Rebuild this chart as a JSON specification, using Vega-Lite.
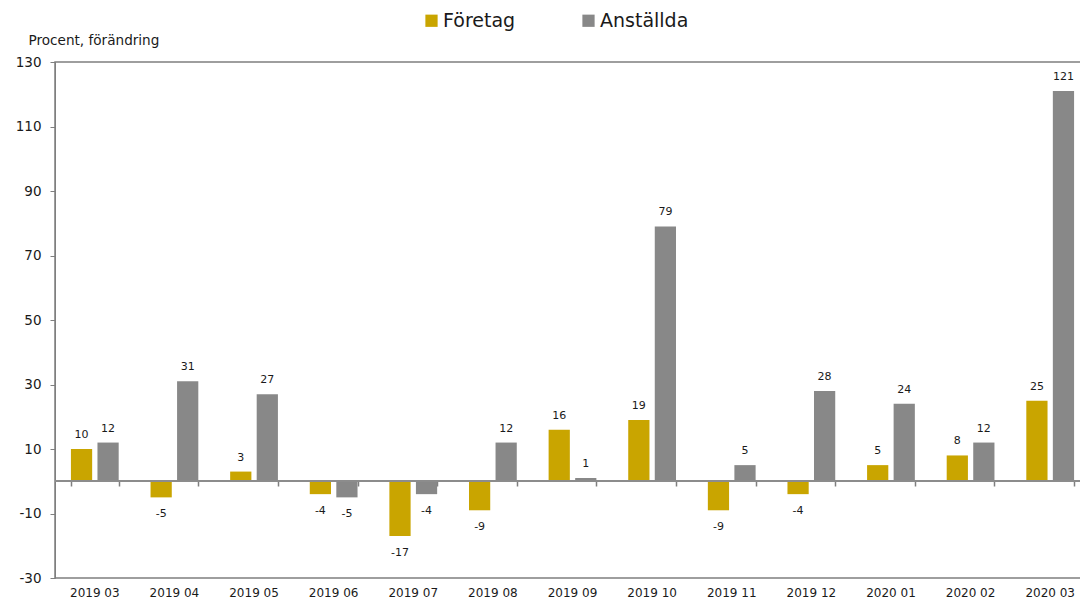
{
  "$schema": "https://vega.github.io/schema/vega-lite/v6.json",
  "width": 1026,
  "height": 516,
  "autosize": {"type": "none"},
  "padding": {"left": 55, "top": 62, "right": 0, "bottom": 25},
  "config": {
    "font": "DejaVu Sans",
    "view": {"stroke": "#7f7f7f", "strokeWidth": 1.5},
    "axis": {"labelColor": "#1a1a1a", "titleColor": "#1a1a1a", "domainColor": "#7f7f7f", "tickColor": "#7f7f7f", "grid": false}
  },
  "data": {
    "values": [
      {"month": "2019 03", "serie": "Företag", "value": 10},
      {"month": "2019 03", "serie": "Anställda", "value": 12},
      {"month": "2019 04", "serie": "Företag", "value": -5},
      {"month": "2019 04", "serie": "Anställda", "value": 31},
      {"month": "2019 05", "serie": "Företag", "value": 3},
      {"month": "2019 05", "serie": "Anställda", "value": 27},
      {"month": "2019 06", "serie": "Företag", "value": -4},
      {"month": "2019 06", "serie": "Anställda", "value": -5},
      {"month": "2019 07", "serie": "Företag", "value": -17},
      {"month": "2019 07", "serie": "Anställda", "value": -4},
      {"month": "2019 08", "serie": "Företag", "value": -9},
      {"month": "2019 08", "serie": "Anställda", "value": 12},
      {"month": "2019 09", "serie": "Företag", "value": 16},
      {"month": "2019 09", "serie": "Anställda", "value": 1},
      {"month": "2019 10", "serie": "Företag", "value": 19},
      {"month": "2019 10", "serie": "Anställda", "value": 79},
      {"month": "2019 11", "serie": "Företag", "value": -9},
      {"month": "2019 11", "serie": "Anställda", "value": 5},
      {"month": "2019 12", "serie": "Företag", "value": -4},
      {"month": "2019 12", "serie": "Anställda", "value": 28},
      {"month": "2020 01", "serie": "Företag", "value": 5},
      {"month": "2020 01", "serie": "Anställda", "value": 24},
      {"month": "2020 02", "serie": "Företag", "value": 8},
      {"month": "2020 02", "serie": "Anställda", "value": 12},
      {"month": "2020 03", "serie": "Företag", "value": 25},
      {"month": "2020 03", "serie": "Anställda", "value": 121}
    ]
  },
  "resolve": {"axis": {"x": "independent"}},
  "layer": [
    {
      "mark": {"type": "bar"},
      "encoding": {
        "x": {
          "field": "month", "type": "ordinal", "sort": null,
          "scale": {"paddingInner": 0.4, "paddingOuter": 0.2, "range": [0, 1035]},
          "axis": {"orient": "bottom", "title": null, "domain": false, "ticks": false, "labelAngle": 0, "labelFontSize": 12, "labelPadding": 9}
        },
        "xOffset": {
          "field": "serie", "type": "nominal", "sort": ["Företag", "Anställda"],
          "scale": {"paddingInner": 0.2, "paddingOuter": 0}
        },
        "y": {
          "field": "value", "type": "quantitative",
          "scale": {"domain": [-30, 130], "nice": false, "zero": false},
          "axis": {
            "values": [-30, -10, 10, 30, 50, 70, 90, 110, 130],
            "labelExpr": "'' + datum.value",
            "tickSize": 5, "labelPadding": 9, "labelFontSize": 13.5,
            "title": "Procent, förändring", "titleAngle": 0, "titleAlign": "left",
            "titleBaseline": "middle", "titleX": -27, "titleY": -22,
            "titleFontSize": 13.6, "titleFontWeight": "normal"
          }
        },
        "color": {
          "field": "serie", "type": "nominal",
          "scale": {"domain": ["Företag", "Anställda"], "range": ["#C9A500", "#888888"]},
          "legend": {
            "title": null, "orient": "none", "direction": "horizontal",
            "legendX": 367, "legendY": -51,
            "symbolType": "square", "symbolSize": 150, "symbolStrokeWidth": 0, "symbolOpacity": 1,
            "labelFontSize": 19, "labelColor": "#1a1a1a", "labelOffset": 2, "columnPadding": 63
          }
        }
      }
    },
    {
      "mark": {"type": "rule", "color": "#8c8c8c", "strokeWidth": 1.5},
      "encoding": {"y": {"datum": 0, "type": "quantitative"}}
    },
    {
      "transform": [{"filter": "datum.value >= 0"}],
      "mark": {"type": "text", "baseline": "middle", "dy": -14, "fontSize": 11, "color": "#1a1a1a"},
      "encoding": {
        "x": {
          "field": "month", "type": "ordinal", "sort": null,
          "axis": {"orient": "top", "title": null, "labels": false, "domain": false, "ticks": true, "tickBand": "extent", "tickSize": -5, "tickWidth": 1.5, "offset": -419}
        },
        "xOffset": {"field": "serie", "type": "nominal", "sort": ["Företag", "Anställda"]},
        "y": {"field": "value", "type": "quantitative"},
        "text": {"field": "value", "type": "nominal"}
      }
    },
    {
      "transform": [{"filter": "datum.value < 0"}],
      "mark": {"type": "text", "baseline": "middle", "dy": 17, "fontSize": 11, "color": "#1a1a1a"},
      "encoding": {
        "x": {"field": "month", "type": "ordinal", "sort": null, "axis": null},
        "xOffset": {"field": "serie", "type": "nominal", "sort": ["Företag", "Anställda"]},
        "y": {"field": "value", "type": "quantitative"},
        "text": {"field": "value", "type": "nominal"}
      }
    }
  ]
}
